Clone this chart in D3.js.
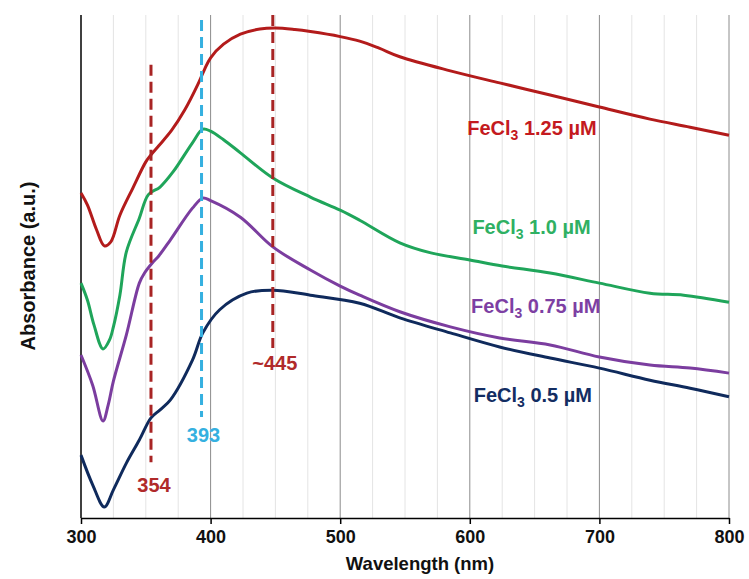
<!DOCTYPE html>
<html lang="en">
<head>
<meta charset="UTF-8">
<title>FeCl3 absorbance spectra</title>
<script src="https://cdn.jsdelivr.net/npm/d3@7"></script>
<style>
  body { margin: 0; background: #fff; }
  svg { display: block; }
  text { font-family: "Liberation Sans", Arial, sans-serif; font-weight: bold; }
</style>
</head>
<body>
<svg id="chart" width="749" height="579"></svg>
<script>
// wavelength (nm) / absorbance (a.u., arbitrary offsets)
const red125 = [[300,.646],[305,.622],[312,.573],[318,.541],[323,.549],[330,.602],[340,.656],[350,.708],[354,.722],
  [360,.740],[370,.771],[380,.811],[390,.861],[395,.890],[400,.915],[410,.942],[423,.962],[438,.972],[450,.974],
  [465,.971],[477,.967],[500,.957],[515,.948],[530,.934],[546,.917],[585,.889],[623,.865],[662,.841],[700,.817],
  [739,.793],[770,.777],[800,.761]];
const green10 = [[300,.467],[305,.433],[310,.384],[317,.336],[322,.354],[325,.380],[330,.443],[335,.529],[345,.596],
  [352,.643],[361,.658],[371,.688],[386,.746],[394,.773],[400,.769],[410,.752],[423,.726],[448,.676],[477,.638],
  [500,.612],[515,.592],[546,.547],[570,.527],[600,.513],[625,.501],[662,.487],[700,.467],[739,.447],[765,.443],[800,.429]];
const purple075 = [[300,.324],[309,.264],[317,.193],[321,.225],[325,.272],[335,.364],[345,.467],[349,.487],[355,.507],
  [360,.521],[369,.553],[386,.616],[394,.636],[400,.631],[423,.598],[448,.539],[477,.493],[500,.461],
  [515,.443],[546,.410],[585,.380],[623,.358],[662,.344],[700,.320],[739,.304],[770,.298],[800,.288]];
const navy05 = [[300,.125],[309,.066],[318,.022],[325,.056],[335,.109],[345,.155],[354,.199],[361,.215],[369,.235],
  [386,.314],[394,.368],[407,.414],[428,.447],[448,.453],[477,.443],[515,.427],[546,.398],[585,.368],[623,.340],
  [662,.318],[700,.298],[739,.274],[770,.258],[800,.241]];

const seriesNames = ["1.25", "1.0", "0.75", "0.5"];
const seriesColors = ["#b31b1b", "#1fa55a", "#7b3d9f", "#0f2a5c"];
const labelColors = ["#c41a20", "#2fb063", "#7d3fa3", "#132d62"];
const labelPos = [[598, .761], [602, .565], [601, .407], [603, .230]];

// marker lines: x, top, bottom, label, label y
const markX = [354, 393, 448];
const markTop = [.901, .990, 1.0];
const markBottom = [.111, .201, .338];
const markText = ["354", "393", "~445"];
const markLabelY = [.052, .151, .294];
const markColors = ["#a82424", "#35b0e0", "#a82424"];

const xTicks = [300, 400, 500, 600, 700, 800];

const svg = d3.select("#chart");
const mLeft = 81, mRight = 729, mTop = 15, mBottom = 518;
const x = d3.scaleLinear().domain([300, 800]).range([mLeft, mRight]);
const y = d3.scaleLinear().domain([0, 1]).range([mBottom, mTop]);

// grid
const minor = d3.range(325, 800, 25).filter(v => v % 100 !== 0);
svg.append("g").selectAll("line").data(minor).join("line")
  .attr("x1", d => x(d)).attr("x2", d => x(d)).attr("y1", mTop).attr("y2", mBottom)
  .attr("stroke", "#e4e4e4").attr("stroke-width", 1);
svg.append("g").selectAll("line").data(xTicks.slice(1)).join("line")
  .attr("x1", d => x(d)).attr("x2", d => x(d)).attr("y1", mTop).attr("y2", mBottom)
  .attr("stroke", "#8c8c8c").attr("stroke-width", 1);

// x axis
const xAxis = svg.append("g").attr("transform", `translate(0,${mBottom})`)
  .call(d3.axisBottom(x).tickValues(xTicks).tickSize(6).tickSizeOuter(0).tickPadding(6));
xAxis.select(".domain").attr("stroke", "#000").attr("stroke-width", 1.5);
xAxis.selectAll(".tick line").attr("stroke", "#000").attr("stroke-width", 1.5);
xAxis.selectAll(".tick text").attr("font-size", 18).attr("fill", "#111")
  .attr("font-family", "Liberation Sans, Arial, sans-serif").attr("font-weight", "bold");

// y axis line
svg.append("line").attr("x1", mLeft).attr("x2", mLeft).attr("y1", mTop).attr("y2", mBottom)
  .attr("stroke", "#000").attr("stroke-width", 1.5);

// curves
const line = d3.line().x(d => x(d[0])).y(d => y(d[1])).curve(d3.curveCatmullRom.alpha(0.5));
[red125, green10, purple075, navy05].forEach((s, i) => {
  svg.append("path").datum(s).attr("d", line)
    .attr("fill", "none").attr("stroke", seriesColors[i]).attr("stroke-width", 3)
    .attr("stroke-linejoin", "round");
});

// dashed markers
markX.forEach((m, i) => {
  svg.append("line").attr("x1", x(m)).attr("x2", x(m))
    .attr("y1", y(markTop[i])).attr("y2", y(markBottom[i]))
    .attr("stroke", markColors[i]).attr("stroke-width", 3).attr("stroke-dasharray", "11,6");
  svg.append("text").attr("x", x(m) + (i === 0 ? 3 : 2)).attr("y", y(markLabelY[i]))
    .attr("text-anchor", "middle").attr("font-size", 20).attr("fill", markColors[i] === "#a82424" ? "#b02a2a" : "#35b0e0")
    .text(markText[i]);
});

// series labels
seriesNames.forEach((n, i) => {
  const t = svg.append("text").attr("x", x(labelPos[i][0])).attr("y", y(labelPos[i][1]))
    .attr("font-size", 20).attr("fill", labelColors[i]);
  t.append("tspan").text("FeCl");
  t.append("tspan").attr("font-size", 14).attr("dy", 5).text("3");
  t.append("tspan").attr("dy", -5).text(" " + n + " µM");
});

// axis titles
svg.append("text").attr("x", 420).attr("y", 570).attr("text-anchor", "middle")
  .attr("font-size", 18.5).attr("fill", "#111").text("Wavelength (nm)");
svg.append("text").attr("transform", "translate(35,266) rotate(-90)").attr("text-anchor", "middle")
  .attr("font-size", 20).attr("fill", "#111").text("Absorbance (a.u.)");
</script>
</body>
</html>
